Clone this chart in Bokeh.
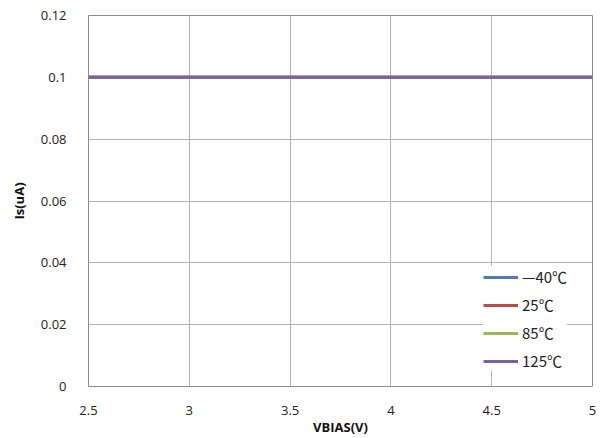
from bokeh.plotting import figure
from bokeh.models import FixedTicker, Legend, LegendItem, Range1d
from bokeh.embed import file_html
from bokeh.resources import INLINE

vbias = [2.5, 3.0, 3.5, 4.0, 4.5, 5.0]
is_m40 = [0.1, 0.1, 0.1, 0.1, 0.1, 0.1]
is_25 = [0.1, 0.1, 0.1, 0.1, 0.1, 0.1]
is_85 = [0.1, 0.1, 0.1, 0.1, 0.1, 0.1]
is_125 = [0.1, 0.1, 0.1, 0.1, 0.1, 0.1]
series_names = ["\u201440\u2103", "25\u2103", "85\u2103", "125\u2103"]
series_colors = ["#4A7EBB", "#BE4B48", "#98B954", "#7D60A0"]

x_ticks = [2.5, 3, 3.5, 4, 4.5, 5]
x_labels = ["2.5", "3", "3.5", "4", "4.5", "5"]
y_ticks = [0, 0.02, 0.04, 0.06, 0.08, 0.1, 0.12]
y_labels = ["0", "0.02", "0.04", "0.06", "0.08", "0.1", "0.12"]

p = figure(width=601, height=438, output_backend="svg", toolbar_location=None,
           x_range=Range1d(2.5, 5), y_range=Range1d(0, 0.12),
           min_border_left=88, min_border_right=9, min_border_top=15, min_border_bottom=52)

p.outline_line_color = "#8c8c8c"
p.outline_line_width = 1

font = "Open Sans"
for ax in (p.xaxis[0], p.yaxis[0]):
    ax.axis_line_color = None
    ax.major_tick_line_color = None
    ax.minor_tick_line_color = None
    ax.major_label_text_font = font
    ax.major_label_text_font_size = "13px"
    ax.major_label_text_color = "#222222"
    ax.axis_label_text_font = font
    ax.axis_label_text_font_size = "13px"
    ax.axis_label_text_font_style = "bold"
    ax.axis_label_text_color = "#111111"

p.xaxis.ticker = FixedTicker(ticks=x_ticks)
p.yaxis.ticker = FixedTicker(ticks=y_ticks)
p.xaxis.major_label_overrides = dict(zip(x_ticks, x_labels))
p.yaxis.major_label_overrides = dict(zip(y_ticks, y_labels))
p.xaxis.major_label_standoff = 13
p.yaxis.major_label_standoff = 16
p.xaxis.axis_label = "VBIAS(V)"
p.yaxis.axis_label = "Is(uA)"
p.xaxis.axis_label_standoff = 0
p.yaxis.axis_label_standoff = 10

p.xgrid.grid_line_color = "#b4b4b4"
p.ygrid.grid_line_color = "#b4b4b4"
p.xgrid.grid_line_width = 1
p.ygrid.grid_line_width = 1

items = []
for ys, name, col in zip([is_m40, is_25, is_85, is_125], series_names, series_colors):
    r = p.line(vbias, ys, line_color=col, line_width=3)
    items.append(LegendItem(label=name, renderers=[r]))

legend = Legend(items=items, location=(395, 15), border_line_color=None,
                background_fill_color="white", background_fill_alpha=1,
                glyph_width=35, glyph_height=18, label_height=18, spacing=7,
                label_standoff=4, padding=5, margin=0,
                label_text_font="Noto Sans CJK SC", label_text_font_size="15px",
                label_text_color="#222222")
p.add_layout(legend, "center")

open("out.html", "w").write(file_html(p, INLINE))
